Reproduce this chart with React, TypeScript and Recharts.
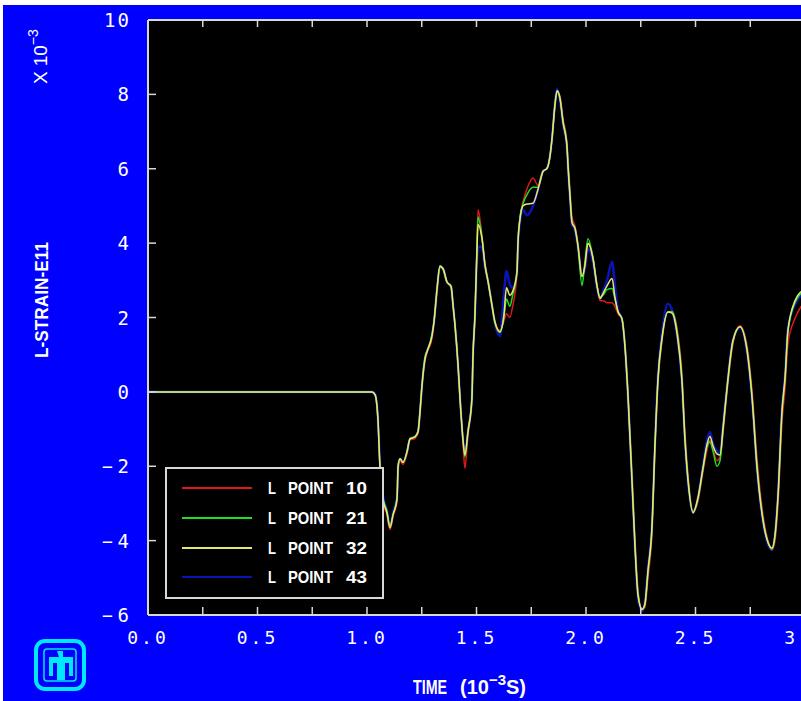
import React from "react";
import { LineChart, Line, XAxis, YAxis, CartesianGrid } from "recharts";

// time in 10^-3 s
const time = [
  0.0, 1.023, 1.037, 1.05, 1.059, 1.073, 1.091, 1.105, 1.119, 1.137, 1.142, 1.151, 1.164, 1.183, 1.196,
  1.219, 1.233, 1.242, 1.251, 1.265, 1.274, 1.297, 1.306, 1.32, 1.333, 1.347, 1.365, 1.384, 1.393, 1.402,
  1.416, 1.425, 1.438, 1.447, 1.461, 1.479, 1.484, 1.493, 1.502, 1.507, 1.525, 1.539, 1.553, 1.571, 1.584,
  1.607, 1.625, 1.637, 1.652, 1.665, 1.685, 1.689, 1.699, 1.712, 1.73, 1.758, 1.781, 1.804, 1.822, 1.836,
  1.845, 1.858, 1.868, 1.881, 1.895, 1.913, 1.918, 1.927, 1.936, 1.95, 1.963, 1.982, 1.995, 2.009, 2.032,
  2.05, 2.064, 2.078, 2.096, 2.119, 2.132, 2.146, 2.164, 2.178, 2.192, 2.21, 2.224, 2.237, 2.256, 2.269,
  2.283, 2.301, 2.315, 2.329, 2.347, 2.374, 2.393, 2.416, 2.438, 2.452, 2.466, 2.489, 2.511, 2.534, 2.553,
  2.566, 2.58, 2.598, 2.612, 2.626, 2.644, 2.671, 2.703, 2.735, 2.758, 2.781, 2.808, 2.831, 2.849, 2.863,
  2.877, 2.895, 2.909, 2.922, 2.954, 2.982,
];

// strain x 10^-3
const p10 = [
  0, 0, -0.08, -0.8, -2.0, -2.95, -3.3, -3.7, -3.35, -2.95, -2.1, -1.85, -1.95, -1.65, -1.3,
  -1.25, -1.1, -0.6, 0.1, 0.85, 1.05, 1.45, 1.85, 2.7, 3.35, 3.3, 2.95, 2.8, 2.3, 1.75,
  0.65, -0.25, -1.35, -2.05, -1.15, -0.25, 0.9, 2.0, 3.8, 4.9, 4.2, 3.45, 3.0, 2.35, 1.9,
  1.65, 1.9, 2.1, 2.0, 2.3, 3.2, 3.95, 4.7, 5.1, 5.45, 5.75, 5.55, 5.95, 6.0, 6.35,
  6.8, 7.65, 8.05, 7.95, 7.35, 6.7, 6.2, 5.4, 4.7, 4.45, 4.0, 3.15, 3.35, 4.0, 3.6,
  2.9, 2.45, 2.45, 2.4, 2.4, 2.3, 2.1, 1.97, 1.3, 0.0, -2.2, -4.0, -5.3, -5.85, -5.8,
  -5.0, -3.85, -1.6, 0.25, 1.35, 2.15, 2.15, 1.7, 0.5, -1.1, -2.25, -3.2, -2.95, -2.15, -1.55,
  -1.3, -1.55, -1.85, -1.75, -1.1, 0.0, 1.3, 1.78, 1.25, 0.05, -1.8, -3.3, -4.0, -4.25, -4.0,
  -3.0, -0.8, 0.1, 1.3, 1.97, 2.3,
];
const p21 = [
  0, 0, -0.08, -0.75, -1.95, -2.85, -3.2, -3.6, -3.3, -2.85, -2.0, -1.8, -1.9, -1.6, -1.25,
  -1.2, -1.05, -0.5, 0.2, 0.95, 1.1, 1.55, 1.9, 2.8, 3.4, 3.3, 2.95, 2.85, 2.35, 1.8,
  0.7, -0.2, -1.25, -1.75, -1.05, -0.15, 1.0, 2.1, 3.9, 4.7, 4.15, 3.4, 2.95, 2.3, 1.85,
  1.6, 2.0, 2.5, 2.3, 2.6, 3.25, 4.0, 4.7, 5.05, 5.3, 5.5, 5.5, 5.93, 6.01, 6.36,
  6.82, 7.71, 8.1, 7.9, 7.28, 6.63, 6.09, 5.28, 4.58, 4.39, 3.94, 2.86, 3.5, 4.12, 3.6,
  2.86, 2.55, 2.6, 2.75, 2.78, 2.5, 2.16, 1.97, 1.24, -0.11, -2.35, -4.15, -5.39, -5.85, -5.71,
  -4.85, -3.69, -1.46, 0.35, 1.43, 2.15, 2.16, 1.62, 0.35, -1.27, -2.35, -3.23, -2.88, -2.08, -1.46,
  -1.35, -1.6, -2.0, -1.85, -1.0, 0.08, 1.35, 1.75, 1.16, -0.11, -1.99, -3.42, -4.04, -4.23, -3.88,
  -2.8, -0.54, 0.35, 1.62, 2.4, 2.65,
];
const p32 = [
  0, 0, -0.08, -0.73, -2.0, -2.88, -3.25, -3.65, -3.3, -2.9, -2.0, -1.8, -1.9, -1.6, -1.27,
  -1.21, -1.08, -0.54, 0.16, 0.89, 1.08, 1.51, 1.89, 2.78, 3.37, 3.32, 2.96, 2.83, 2.32, 1.78,
  0.7, -0.19, -1.27, -1.7, -1.08, -0.19, 0.97, 2.05, 3.77, 4.5, 4.12, 3.4, 2.96, 2.32, 1.89,
  1.62, 2.05, 2.8, 2.6, 2.7, 3.23, 3.94, 4.66, 5.0, 5.05, 5.07, 5.45, 5.93, 6.01, 6.36,
  6.82, 7.71, 8.1, 7.9, 7.25, 6.6, 6.05, 5.25, 4.55, 4.39, 3.94, 3.1, 3.4, 4.0, 3.58,
  2.86, 2.51, 2.65, 2.85, 3.05, 2.55, 2.16, 1.97, 1.2, -0.15, -2.4, -4.2, -5.45, -5.85, -5.7,
  -4.8, -3.65, -1.4, 0.4, 1.45, 2.15, 2.12, 1.55, 0.3, -1.3, -2.4, -3.25, -2.85, -2.05, -1.4,
  -1.2, -1.45, -1.67, -1.7, -0.95, 0.12, 1.38, 1.75, 1.12, -0.15, -2.05, -3.45, -4.05, -4.2, -3.85,
  -2.75, -0.5, 0.4, 1.65, 2.45, 2.7,
];
const p43 = [
  0, 0, -0.05, -0.7, -1.9, -2.8, -3.2, -3.69, -3.25, -2.85, -2.0, -1.8, -1.89, -1.62, -1.27,
  -1.21, -1.08, -0.54, 0.16, 0.89, 1.08, 1.51, 1.89, 2.78, 3.37, 3.32, 2.96, 2.83, 2.32, 1.78,
  0.7, -0.19, -1.27, -1.65, -1.08, -0.19, 0.97, 2.05, 3.5, 3.9, 3.9, 3.35, 2.96, 2.32, 1.85,
  1.5, 2.6, 3.25, 2.9, 2.8, 3.2, 3.9, 4.6, 4.9, 4.75, 5.0, 5.45, 5.93, 6.01, 6.36,
  6.82, 7.75, 8.15, 7.85, 7.2, 6.55, 6.0, 5.2, 4.5, 4.35, 3.9, 3.13, 3.3, 3.85, 3.5,
  2.8, 2.5, 2.7, 3.0, 3.5, 2.86, 2.2, 1.95, 1.2, -0.2, -2.45, -4.25, -5.5, -5.9, -5.65,
  -4.75, -3.6, -1.35, 0.45, 1.55, 2.37, 2.2, 1.5, 0.25, -1.35, -2.45, -3.25, -2.85, -2.0, -1.3,
  -1.08, -1.4, -1.6, -1.65, -0.9, 0.15, 1.4, 1.72, 1.08, -0.2, -2.1, -3.5, -4.1, -4.25, -3.85,
  -2.7, -0.45, 0.45, 1.7, 2.35, 2.6,
];

const xTicks = [0, 0.25, 0.5, 0.75, 1, 1.25, 1.5, 1.75, 2, 2.25, 2.5, 2.75, 3];
const yTicks = [-6, -4, -2, 0, 2, 4, 6, 8, 10];
const seriesKeys = ["p10", "p21", "p32", "p43"];
const seriesLabels = ["L  POINT  10", "L  POINT  21", "L  POINT  32", "L  POINT  43"];
const seriesColors = ["#e01818", "#22dd22", "#e8e870", "#0a14b4"];
// blue underneath, the others over it
const drawOrder = [3, 0, 1, 2];

const data = time.map((t, i) => ({ t, p10: p10[i], p21: p21[i], p32: p32[i], p43: p43[i] }));

const FRAME = "#d8d8d8";
const MONO = "'DejaVu Sans Mono', monospace";
const SANS = "'Liberation Sans', Arial, sans-serif";

function BottomTick(props: any) {
  const { x, y, payload } = props;
  const v = payload.value;
  const major = Math.abs(v * 2 - Math.round(v * 2)) < 1e-6;
  return (
    <g>
      <line x1={x} y1={y} x2={x} y2={y - 8} stroke={FRAME} strokeWidth={1.5} />
      {major && (
        <text x={x} y={y + 29} textAnchor="middle" fill="#fff" fontFamily={MONO} fontSize={18} letterSpacing={3}>
          {v.toFixed(1)}
        </text>
      )}
    </g>
  );
}

function TopTick(props: any) {
  const { x, y } = props;
  return <line x1={x} y1={y} x2={x} y2={y + 7} stroke={FRAME} strokeWidth={1.5} />;
}

function LeftTick(props: any) {
  const { x, y, payload } = props;
  const v = payload.value;
  return (
    <g>
      <line x1={x} y1={y} x2={x + 8} y2={y} stroke={FRAME} strokeWidth={1.5} />
      {v < 0 && (
        <text x={x - 46} y={y + 7} fill="#fff" fontFamily={MONO} fontSize={18}>
          {"\u2212"}
        </text>
      )}
      <text x={x - 17} y={y + 7} textAnchor="end" fill="#fff" fontFamily={MONO} fontSize={19} letterSpacing={2}>
        {String(Math.abs(v))}
      </text>
    </g>
  );
}

function LegendBox() {
  const rows = [21, 51, 81, 110];
  return (
    <svg width={219} height={132} style={{ position: "absolute", left: 165, top: 467, pointerEvents: "none" }}>
      <rect x={1} y={1} width={217} height={130} fill="#000" stroke={FRAME} strokeWidth={2} />
      {seriesLabels.map((name, i) => {
        const [l, word, num] = name.split(/\s+/);
        return (
          <g key={name}>
            <line x1={17} y1={rows[i]} x2={87} y2={rows[i]} stroke={seriesColors[i]} strokeWidth={2} />
            <g fill="#fff" fontFamily={SANS} fontSize={17} fontWeight="bold">
              <text x={103} y={rows[i] + 6} textLength={8} lengthAdjust="spacingAndGlyphs">{l}</text>
              <text x={123} y={rows[i] + 6} textLength={45} lengthAdjust="spacingAndGlyphs">{word}</text>
              <text x={181} y={rows[i] + 6} textLength={21} lengthAdjust="spacingAndGlyphs">{num}</text>
            </g>
          </g>
        );
      })}
    </svg>
  );
}

function Overlay() {
  return (
    <svg
      width={801}
      height={701}
      style={{ position: "absolute", left: 0, top: 0, pointerEvents: "none" }}
    >
      <text
        x={48}
        y={300}
        transform="rotate(-90 48 300)"
        textAnchor="middle"
        fill="#fff"
        fontFamily={SANS}
        fontSize={19}
        fontWeight="bold"
        textLength={116}
        lengthAdjust="spacingAndGlyphs"
      >
        L-STRAIN-E11
      </text>
      <text x={47} y={84} transform="rotate(-90 47 84)" fill="#fff" fontFamily={SANS} fontSize={19}>
        <tspan>X</tspan>
        <tspan dx={5}>10</tspan>
        <tspan dy={-9} fontSize={14}>{"\u2212"}3</tspan>
      </text>
      <text x={413} y={694} fill="#fff" fontFamily={SANS} fontSize={20} fontWeight="bold" textLength={34} lengthAdjust="spacingAndGlyphs">
        TIME
      </text>
      <text x={460} y={694} fill="#fff" fontFamily={SANS} fontSize={20} fontWeight="bold">
        <tspan>(10</tspan>
        <tspan dy={-9} fontSize={15}>{"\u2212"}3</tspan>
        <tspan dy={9}>S)</tspan>
      </text>
      <g>
        <rect x={36} y={641} width={48} height={48} rx={9} fill="#0000ff" stroke="#00e8ff" strokeWidth={4} />
        <rect x={44} y={649} width={32} height={32} rx={3} fill="none" stroke="#00e8ff" strokeWidth={1.5} />
        <path
          d="M57 651 h6 v6 h10 v19 h-4 v-13 h-4 v17 h-8 v-17 h-4 v13 h-4 v-19 h10 z"
          fill="#00e8ff"
        />
      </g>
    </svg>
  );
}

export default function App() {
  return (
    <div style={{ position: "absolute", left: 0, top: 0, width: 801, height: 701, overflow: "hidden", background: "#fff" }}>
      <div style={{ position: "absolute", left: 3, top: 5, width: 798, height: 696, background: "#0000ff" }} />
      <div style={{ position: "absolute", left: 0, top: 0 }}>
        <LineChart width={850} height={701} data={data} margin={{ top: 10, right: 45, bottom: 46, left: 88 }}>
          <CartesianGrid horizontal={false} vertical={false} fill="#000" xAxisId="b" yAxisId="l" />
          <XAxis
            xAxisId="b"
            dataKey="t"
            type="number"
            domain={[0, 3]}
            allowDataOverflow
            ticks={xTicks}
            interval={0}
            height={40}
            tickSize={0}
            tickMargin={0}
            tickLine={false}
            axisLine={{ stroke: FRAME, strokeWidth: 2 }}
            tick={<BottomTick />}
          />
          <XAxis
            xAxisId="t"
            orientation="top"
            dataKey="t"
            type="number"
            domain={[0, 3]}
            allowDataOverflow
            ticks={xTicks}
            interval={0}
            height={10}
            tickSize={0}
            tickMargin={0}
            tickLine={false}
            axisLine={{ stroke: FRAME, strokeWidth: 2 }}
            tick={<TopTick />}
          />
          <YAxis
            yAxisId="l"
            type="number"
            domain={[-6, 10]}
            allowDataOverflow
            ticks={yTicks}
            interval={0}
            width={60}
            tickSize={0}
            tickMargin={0}
            tickLine={false}
            axisLine={{ stroke: FRAME, strokeWidth: 2 }}
            tick={<LeftTick />}
          />
          {drawOrder.map((i) => (
            <Line
              key={seriesKeys[i]}
              xAxisId="b"
              yAxisId="l"
              dataKey={seriesKeys[i]}
              name={seriesLabels[i]}
              type="monotone"
              stroke={seriesColors[i]}
              strokeWidth={i === 3 ? 2.6 : 1.5}
              dot={false}
              activeDot={false}
              isAnimationActive={false}
            />
          ))}
        </LineChart>
      </div>
      <LegendBox />
      <Overlay />
    </div>
  );
}
